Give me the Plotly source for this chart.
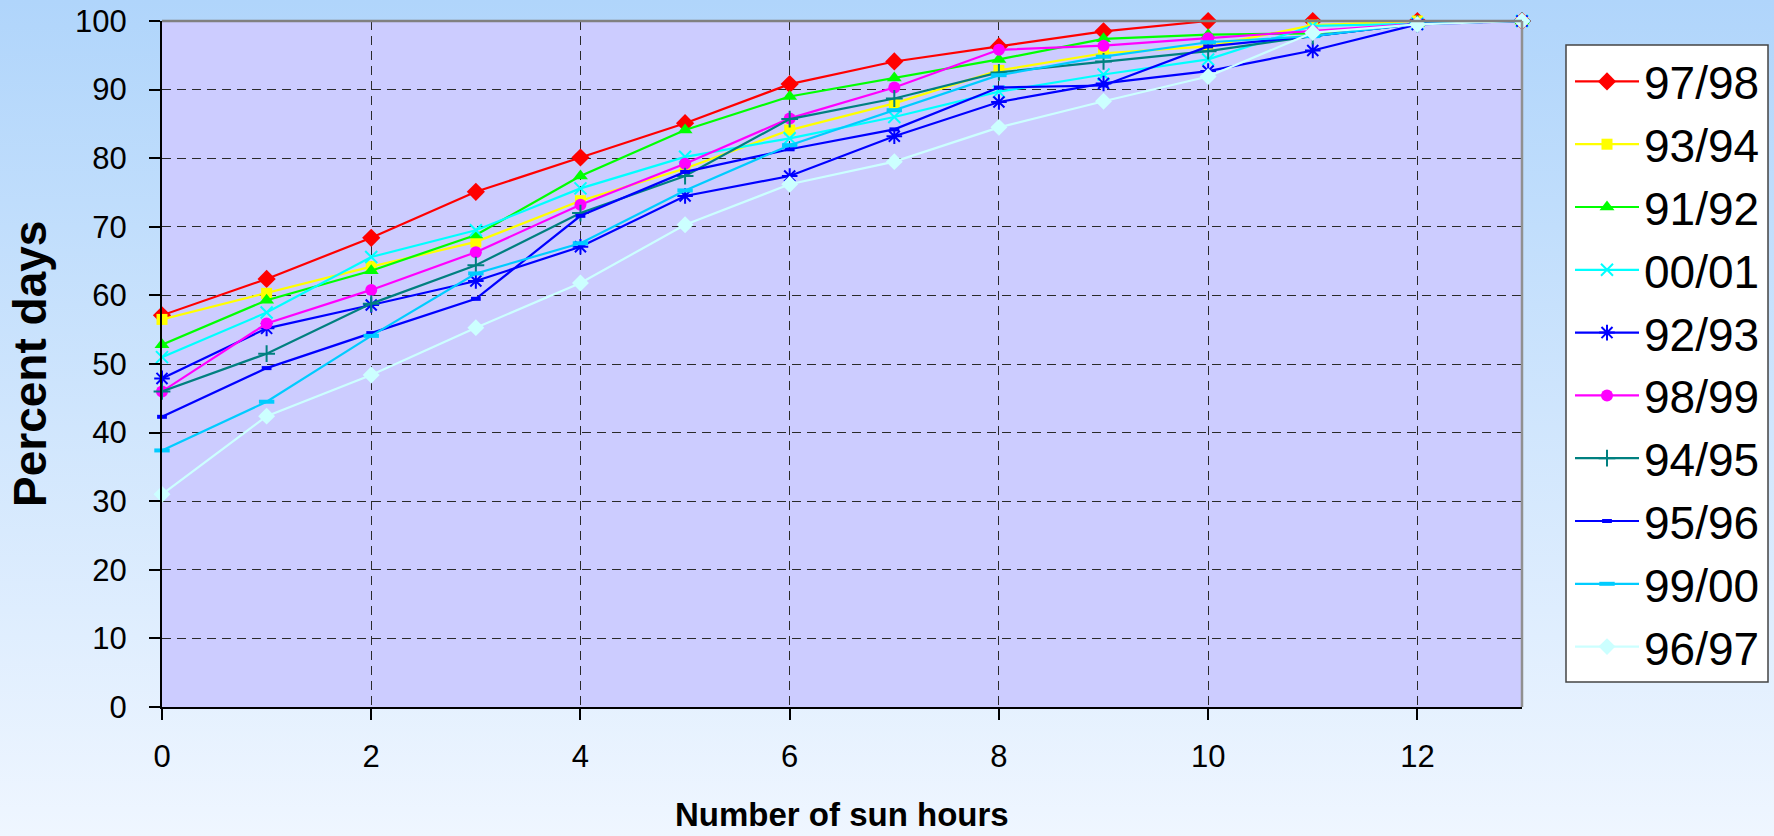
import base64
import plotly.graph_objects as go

# ---------------- data ----------------
sun_hours = list(range(14))
tick_hours = [0, 2, 4, 6, 8, 10, 12]
percent_ticks = list(range(0, 101, 10))

season_labels = ["97/98", "93/94", "91/92", "00/01", "92/93",
                 "98/99", "94/95", "95/96", "99/00", "96/97"]

s_97_98 = [57.1, 62.4, 68.4, 75.1, 80.1, 85.1, 90.8, 94.1, 96.3, 98.5, 100, 100, 100, 100]
s_93_94 = [56.5, 60.3, 64.2, 67.8, 73.8, 78.5, 84.1, 88.0, 92.8, 95.3, 96.3, 99.4, 100, 100]
s_91_92 = [52.8, 59.3, 63.6, 68.8, 77.4, 84.1, 89.0, 91.7, 94.4, 97.4, 98.0, 98.2, 99.6, 100]
s_00_01 = [51.0, 57.5, 65.6, 69.5, 75.6, 80.2, 82.9, 86.0, 89.7, 92.2, 94.4, 99.3, 99.6, 100]
s_92_93 = [47.9, 55.2, 58.6, 62.1, 67.1, 74.5, 77.4, 83.2, 88.2, 90.9, 92.7, 95.7, 99.5, 100]
s_98_99 = [46.0, 55.9, 60.8, 66.3, 73.2, 79.2, 85.8, 90.3, 95.8, 96.4, 97.5, 98.5, 99.6, 100]
s_94_95 = [46.0, 51.5, 58.8, 64.4, 72.0, 77.4, 85.7, 88.7, 92.5, 94.1, 95.6, 97.8, 99.6, 100]
s_95_96 = [42.3, 49.4, 54.5, 59.5, 71.6, 78.0, 81.3, 84.2, 90.3, 90.6, 96.3, 97.8, 99.6, 100]
s_99_00 = [37.4, 44.5, 54.1, 63.2, 67.6, 75.3, 81.9, 87.0, 92.1, 94.8, 96.9, 97.8, 99.6, 100]
s_96_97 = [31.0, 42.4, 48.4, 55.3, 61.8, 70.3, 76.2, 79.5, 84.5, 88.3, 91.9, 98.3, 99.5, 100]

series_values = [s_97_98, s_93_94, s_91_92, s_00_01, s_92_93,
                 s_98_99, s_94_95, s_95_96, s_99_00, s_96_97]

# ---------------- styles ----------------
colors = ["#FF0000", "#FFFF00", "#00FF00", "#00FFFF", "#0000FF",
          "#FF00FF", "#008080", "#0000FF", "#00CCFF", "#CCFFFF"]
markers = [
    dict(symbol="diamond", size=14),
    dict(symbol="square", size=11),
    dict(symbol="triangle-up", size=13),
    dict(symbol="x-thin", size=12, line=dict(width=2)),
    dict(symbol="asterisk", size=13, line=dict(width=2)),
    dict(symbol="circle", size=12),
    dict(symbol="cross-thin", size=12, line=dict(width=2)),
    dict(symbol="line-ew", size=7, line=dict(width=4)),
    dict(symbol="line-ew", size=11, line=dict(width=4)),
    dict(symbol="diamond", size=13),
]

FONT = "Arial, 'Liberation Sans', sans-serif"

W, H = 1774, 836
L, R, T, B = 162, 252, 21, 129
pw, ph = W - L - R, H - T - B

fig = go.Figure()
for name, vals, col, mk in zip(season_labels, series_values, colors, markers):
    m = dict(mk)
    m["color"] = col
    if "line" in m:
        m["line"] = dict(m["line"], color=col)
    else:
        m["line"] = dict(width=0)
    fig.add_trace(go.Scatter(
        x=sun_hours, y=vals, name=name, mode="lines+markers",
        line=dict(color=col, width=2.2), marker=m, cliponaxis=False,
    ))

# gradient background (vertical, light blue to near white)
svg = ('<svg xmlns="http://www.w3.org/2000/svg" width="100" height="100" '
       'preserveAspectRatio="none"><defs><linearGradient id="g" x1="0" y1="0" '
       'x2="0" y2="1"><stop offset="0" stop-color="#B0D5FB"/>'
       '<stop offset="1" stop-color="#EFF6FF"/></linearGradient></defs>'
       '<rect width="100" height="100" fill="url(#g)"/></svg>')
svg_uri = "data:image/svg+xml;base64," + base64.b64encode(svg.encode()).decode()

fig.add_layout_image(dict(
    source=svg_uri, xref="paper", yref="paper",
    x=-L / pw, y=1 + T / ph, sizex=W / pw, sizey=H / ph,
    xanchor="left", yanchor="top", sizing="stretch", layer="below",
))

# lavender plot area (drawn beneath gridlines and traces)
fig.add_shape(type="rect", xref="x domain", yref="y domain", x0=0, x1=1, y0=0, y1=1,
              fillcolor="#CCCCFF", line=dict(width=0), layer="below")

# gray border on top and right
fig.add_shape(type="line", xref="paper", yref="paper", x0=0, x1=1, y0=1, y1=1,
              line=dict(color="#808080", width=2.5), layer="above")
fig.add_shape(type="line", xref="paper", yref="paper", x0=1, x1=1, y0=0, y1=1,
              line=dict(color="#909090", width=2.5), layer="above")

# legend box
LB_L, LB_R, LB_T, LB_B = 1566, 1768, 45, 682
fig.add_shape(type="rect", xref="paper", yref="paper",
              x0=(LB_L - L) / pw, x1=(LB_R - L) / pw,
              y0=1 - (LB_B - T) / ph, y1=1 - (LB_T - T) / ph,
              fillcolor="#FFFFFF", line=dict(color="#444444", width=1.5),
              layer="below")

axis_common = dict(
    showgrid=True, gridcolor="#2a2a2a", gridwidth=1.3, griddash="9px,6px",
    showline=True, linecolor="#000000", linewidth=2,
    ticks="outside", ticklen=11, tickcolor="#000000", tickwidth=1.5,
    zeroline=False, tickfont=dict(family=FONT, size=31, color="#000000"),
)

fig.update_layout(
    width=W, height=H,
    margin=dict(l=L, r=R, t=T, b=B, pad=0, autoexpand=False),
    paper_bgcolor="#D0E6FC", plot_bgcolor="rgba(0,0,0,0)",
    showlegend=True,
    xaxis=dict(axis_common, range=[0, 13], tickvals=tick_hours,
               ticklabelstandoff=10),
    yaxis=dict(axis_common, range=[0, 100], tickvals=percent_ticks,
               ticklabelstandoff=16),
    legend=dict(
        x=(1570 - L) / pw, y=1 - (45 - T) / ph, xanchor="left", yanchor="top",
        bgcolor="rgba(0,0,0,0)", borderwidth=0,
        font=dict(family=FONT, size=46, color="#000000"),
        itemwidth=64, tracegroupgap=0,
    ),
    annotations=[
        dict(text="<b>Number of sun hours</b>", xref="paper", yref="paper",
             x=0.5, y=(H - B - 814) / ph, xanchor="center", yanchor="middle",
             showarrow=False, font=dict(family=FONT, size=33, color="#000000")),
        dict(text="<b>Percent days</b>", xref="paper", yref="paper",
             x=(30 - L) / pw, y=0.5, xanchor="center", yanchor="middle",
             textangle=-90, showarrow=False,
             font=dict(family=FONT, size=46, color="#000000")),
    ],
)

fig.write_html("out.html")
